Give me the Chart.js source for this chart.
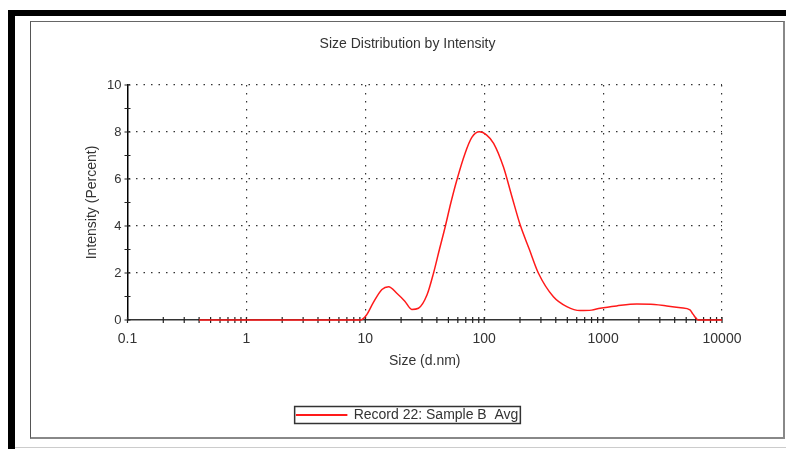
<!DOCTYPE html>
<html>
<head>
<meta charset="utf-8">
<script src="https://cdn.jsdelivr.net/npm/chart.js@4.4.1/dist/chart.umd.min.js"></script>
<style>
  html, body { margin: 0; padding: 0; background: #fff; }
  body { width: 786px; height: 449px; position: relative; overflow: hidden; }
  #outerTop { position: absolute; left: 8px; top: 10px; width: 778px; height: 6px; background: #000; }
  #outerLeft { position: absolute; left: 8px; top: 10px; width: 7px; height: 439px; background: #000; }
  #bottomLine { position: absolute; left: 15px; top: 447px; width: 771px; height: 1px; background: #ccc; }
  #frame { position: absolute; left: 30px; top: 21px; width: 755px; height: 418px; box-sizing: border-box;
           border-left: 1.5px solid #555; border-top: 1.5px solid #666; border-right: 2px solid #888; border-bottom: 2px solid #888; }
  #chart { position: absolute; left: 31px; top: 22px; }
</style>
</head>
<body>
<div id="outerTop"></div>
<div id="outerLeft"></div>
<div id="bottomLine"></div>
<div id="frame"></div>
<canvas id="chart" width="753" height="415"></canvas>
<script>
// size bins (d.nm) and intensity (%)
const sizes = [0.4, 1, 5, 9.1, 10.2, 11.7, 13.8, 15.7, 18.5, 21.5, 24.6, 28, 33, 37.5, 42, 47, 52.5, 58.9,
               69, 78.7, 91.2, 105, 120, 145, 170, 201, 240, 286, 382, 495, 641, 800, 944, 1300, 1920,
               2700, 3430, 4500, 5380, 5700, 6320, 10000];
const intensity = [0, 0, 0, 0, 0.2, 0.75, 1.3, 1.42, 1.13, 0.8, 0.45, 0.5, 1.06, 2.0, 3.0, 3.97, 5.0, 5.96,
                   7.09, 7.77, 8.01, 7.87, 7.52, 6.52, 5.3, 4.04, 3.0, 1.99, 0.99, 0.57, 0.4, 0.42, 0.5, 0.6, 0.68,
                   0.66, 0.6, 0.52, 0.43, 0.25, 0, 0];
const xTickLabels = ['0.1', '1', '10', '100', '1000', '10000'];
const yTickLabels = ['0', '2', '4', '6', '8', '10'];
const seriesLabel = 'Record 22: Sample B  Avg';

const textColor = '#333';
const clear = 'rgba(0,0,0,0)';

Chart.defaults.font.family = '"Liberation Sans", Arial, sans-serif';
Chart.defaults.color = textColor;

// small crossing tick marks on both axes + frame around the legend
const axisMarks = {
    id: 'axisMarks',
    beforeDatasetsDraw(chart) {
        const {ctx, scales: {x, y}} = chart;
        ctx.save();
        ctx.strokeStyle = '#222';
        ctx.lineWidth = 1.2;
        ctx.beginPath();
        x.ticks.forEach(t => {
            const px = x.getPixelForValue(t.value);
            ctx.moveTo(px, y.bottom - 3);
            ctx.lineTo(px, y.bottom + 3);
        });
        y.ticks.forEach(t => {
            const py = y.getPixelForValue(t.value);
            ctx.moveTo(x.left - 3, py);
            ctx.lineTo(x.left + 3, py);
        });
        ctx.stroke();
        ctx.restore();
    },
    afterDraw(chart) {
        const hb = chart.legend.legendHitBoxes[0];
        if (!hb) return;
        const ctx = chart.ctx;
        ctx.save();
        ctx.strokeStyle = '#333';
        ctx.lineWidth = 1.5;
        ctx.strokeRect(hb.left - 2, hb.top - 1.5, hb.width + 4, hb.height + 3);
        ctx.restore();
    }
};

new Chart(document.getElementById('chart'), {
    type: 'line',
    data: {
        datasets: [{
            label: seriesLabel,
            data: sizes.map((s, i) => ({x: s, y: intensity[i]})),
            borderColor: '#ff1a1a',
            backgroundColor: '#ff1a1a',
            borderWidth: 1.5,
            pointRadius: 0,
            cubicInterpolationMode: 'monotone',
            clip: 4
        }]
    },
    options: {
        responsive: false,
        animation: false,
        layout: {padding: {bottom: 5}},
        plugins: {
            title: {
                display: true,
                text: 'Size Distribution by Intensity',
                color: textColor,
                font: {size: 14, weight: 'normal'},
                padding: {top: 13.6, bottom: 32.6}
            },
            legend: {
                position: 'bottom',
                labels: {
                    boxWidth: 50,
                    boxHeight: 0.5,
                    padding: 10,
                    color: textColor,
                    font: {size: 14}
                }
            },
            tooltip: {enabled: false}
        },
        scales: {
            x: {
                type: 'logarithmic',
                min: 0.1,
                max: 10000,
                afterBuildTicks(scale) {
                    const t = [];
                    xTickLabels.forEach((lab, i) => {
                        const d = Number(lab);
                        if (i < xTickLabels.length - 1) {
                            for (let k = 1; k <= 9; k++) t.push({value: k * d, major: k === 1, lab: k === 1 ? lab : ''});
                        } else {
                            t.push({value: d, major: true, lab: lab});
                        }
                    });
                    scale.ticks = t;
                },
                afterFit(scale) { scale.height = 78; },
                ticks: {
                    autoSkip: false,
                    maxRotation: 0,
                    padding: 10.5,
                    font: {size: 14},
                    callback: (v, i, ticks) => ticks[i].lab || ''
                },
                grid: {
                    drawTicks: false,
                    lineWidth: 1.2,
                    color: c => (c.tick && c.tick.major && c.index > 0) ? '#333' : clear
                },
                border: {display: true, color: '#333', width: 1.5, dash: [1.5, 6.5]},
                title: {
                    display: true,
                    text: 'Size (d.nm)',
                    font: {size: 14},
                    padding: {top: 0, bottom: 28.6}
                }
            },
            y: {
                min: 0,
                max: 10,
                afterFit(scale) { scale.width = 96.5; },
                ticks: {
                    stepSize: 1,
                    padding: 6,
                    font: {size: 13},
                    callback: v => yTickLabels.includes(String(v)) ? String(v) : ''
                },
                grid: {
                    drawTicks: false,
                    lineWidth: 1.2,
                    color: c => (c.tick && c.tick.value > 0 && yTickLabels.includes(String(c.tick.value))) ? '#333' : clear
                },
                border: {display: true, color: '#000', width: 1.5, dash: [1.5, 6]},
                title: {
                    display: true,
                    text: 'Intensity (Percent)',
                    font: {size: 14},
                    padding: {top: 52.6, bottom: 0}
                }
            },
            y2: {
                type: 'linear',
                position: 'right',
                afterFit(scale) { scale.width = 62; },
                ticks: {display: false},
                grid: {display: false, drawTicks: false},
                border: {display: false}
            }
        }
    },
    plugins: [axisMarks]
});
</script>
</body>
</html>
